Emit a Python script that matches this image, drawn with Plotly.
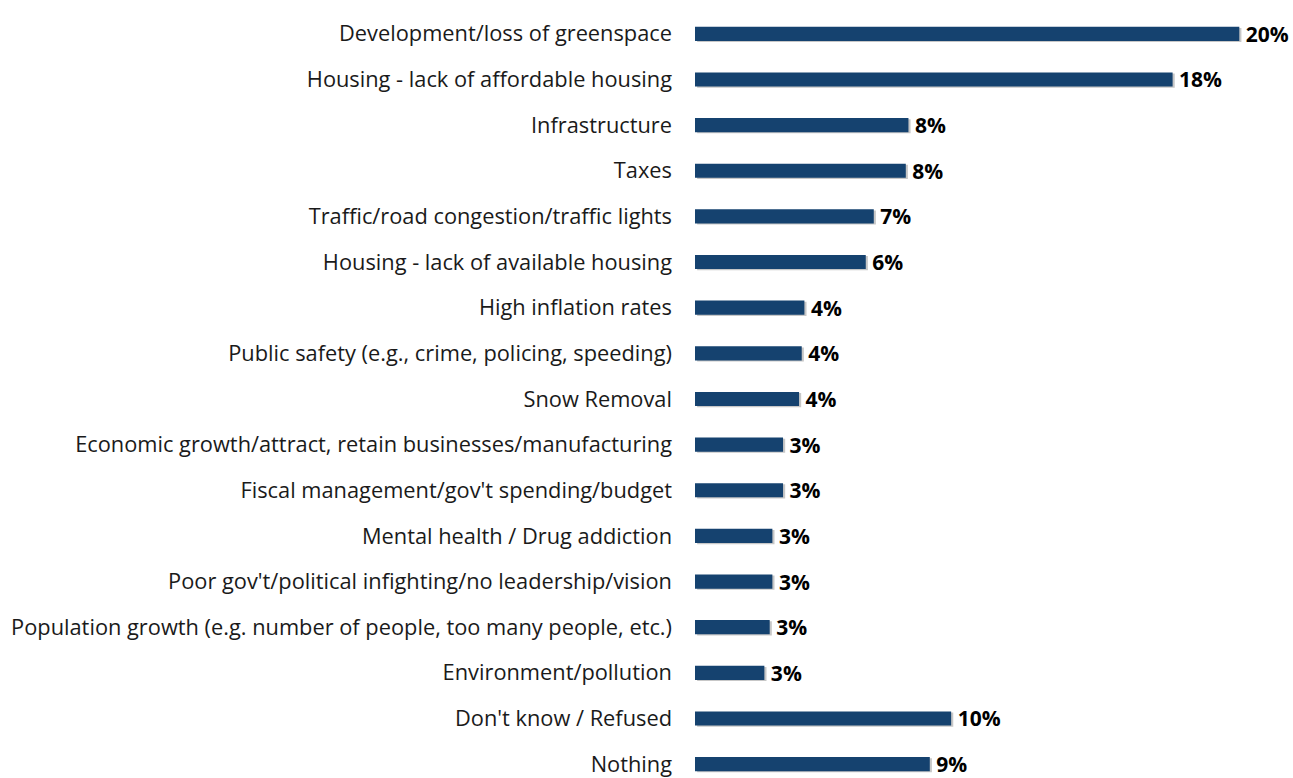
import plotly.graph_objects as go

categories = [
    "Development/loss of greenspace",
    "Housing - lack of affordable housing",
    "Infrastructure",
    "Taxes",
    "Traffic/road congestion/traffic lights",
    "Housing - lack of available housing",
    "High inflation rates",
    "Public safety (e.g., crime, policing, speeding)",
    "Snow Removal",
    "Economic growth/attract, retain businesses/manufacturing",
    "Fiscal management/gov't spending/budget",
    "Mental health / Drug addiction",
    "Poor gov't/political infighting/no leadership/vision",
    "Population growth (e.g. number of people, too many people, etc.)",
    "Environment/pollution",
    "Don't know / Refused",
    "Nothing",
]
percent = [20.4, 17.9, 8.0, 7.9, 6.7, 6.4, 4.1, 4.0, 3.9, 3.3, 3.3, 2.9, 2.9, 2.8, 2.6, 9.6, 8.8]

BAR_COLOR = "#15426f"
FONT = "Open Sans"
positions = list(range(len(categories)))

fig = go.Figure()

# soft drop shadow under each bar
fig.add_trace(go.Bar(
    y=positions, x=percent, orientation="h",
    base=0.08, width=0.31, offset=-0.13,
    marker=dict(color="rgba(0,0,0,0.22)", line=dict(width=0)),
    hoverinfo="skip", showlegend=False,
))

fig.add_trace(go.Bar(
    y=positions, x=percent, orientation="h",
    width=0.31, offset=-0.155,
    marker=dict(color=BAR_COLOR, line=dict(width=0)),
    texttemplate="\u2009<b>%{x:.0f}%</b>", textposition="outside",
    constraintext="none",
    textfont=dict(family=FONT, size=21, color="#000000"),
    cliponaxis=False, showlegend=False,
))

fig.update_layout(
    width=1293, height=778,
    margin=dict(l=695, r=11, t=11, b=0),
    barmode="overlay",
    plot_bgcolor="white", paper_bgcolor="white",
    font=dict(family=FONT, size=21.8, color="#000000"),
    xaxis=dict(range=[0, 22], visible=False),
    yaxis=dict(
        range=[16.26, -0.5],
        tickmode="array", tickvals=positions, ticktext=categories,
        showgrid=False, zeroline=False, ticks="",
        ticklabelstandoff=22,
        ticklabeloverflow="allow",
        tickfont=dict(family=FONT, size=21.8, color="#1a1a1a"),
    ),
)

# thin vertical category axis line
fig.add_shape(type="line", xref="x", yref="paper", x0=-0.04, x1=-0.04, y0=0, y1=1,
              line=dict(color="#d9d9d9", width=1))

fig.write_html("out.html")
